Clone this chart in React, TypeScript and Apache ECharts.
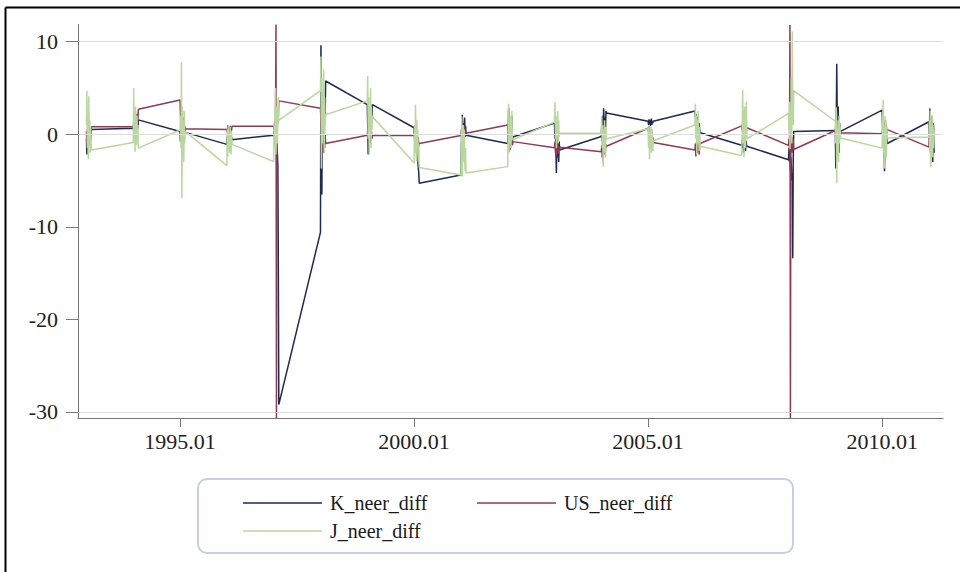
import React, { useEffect, useRef } from "react";
import * as echarts from "echarts";

// Years and months of the monthly series (x is coded as YYYY.MM)
const years = [1993, 1994, 1995, 1996, 1997, 1998, 1999, 2000, 2001, 2002, 2003, 2004, 2005, 2006, 2007, 2008, 2009, 2010, 2011];
const months = ["01", "02", "03", "04", "05", "06", "07", "08", "09", "10", "11", "12"];

const xTickValues = [1995.01, 2000.01, 2005.01, 2010.01];
const yTickValues = [-30, -20, -10, 0, 10];
const yGridValues = [-30, 0, 10];

// K_neer_diff, one row per year (Jan..Dec)
const kNeerDiff = [
  [-0.5, -2.2, 0.3, -0.8, 0.6, -1.2, 0.2, -0.4, 0.8, -0.6, 0.4, 0.5],
  [0.65, 1.2, -0.6, 1.7, 0.3, -0.9, 1.1, 0.2, -0.4, 1.4, 0.6, 1.55],
  [0.3, -0.8, 0.9, -0.3, 0.6, -1.0, 0.4, -0.5, 0.8, -0.2, 0.5, 0.2],
  [-1.1, -0.2, -1.6, 0.3, -0.9, -0.4, -1.3, 0.1, -0.7, -1.0, -0.3, -0.6],
  [-0.1, 0.4, -0.6, 0.2, -0.3, -1.0, -0.8, -1.6, -2.2, -3.5, -14.5, -29.2],
  [-10.6, 9.6, 1.5, -6.5, 3.0, -2.0, 4.5, 0.5, -1.5, 3.5, 2.0, 5.75],
  [3.2, 1.0, -2.2, 2.5, 0.4, 1.8, -1.0, 2.0, 0.8, 3.0, 1.5, 3.2],
  [0.7, -0.5, 0.9, -1.5, -0.2, -2.0, -1.0, -2.8, -3.0, -3.6, -4.2, -5.3],
  [-4.4, -1.5, 0.8, 2.1, -0.5, 1.2, -1.0, 0.6, 1.8, -0.3, 0.9, -0.1],
  [-1.0, 0.5, 2.8, -1.9, 1.0, -0.6, 1.5, -1.2, 0.3, 2.0, -0.8, -0.3],
  [1.2, -0.5, 0.6, -1.8, -4.2, -1.0, -2.5, 0.3, -1.5, -3.0, -0.8, -1.7],
  [-0.25, 1.0, -0.8, 2.0, 0.5, 2.8, 1.2, -0.3, 1.8, 0.6, 2.5, 2.3],
  [1.4, 1.0, 1.6, 1.1, 1.5, 0.9, 1.3, 1.7, 1.0, 1.4, 1.2, 1.4],
  [2.5, 1.8, 2.2, 0.8, 1.5, 0.5, 1.9, 1.0, 0.3, 1.2, 0.6, 0.15],
  [-1.2, -0.6, -1.5, -0.9, -2.0, -0.5, -1.4, -1.0, -1.8, -0.7, -1.1, -1.3],
  [-2.75, -1.5, -3.0, -2.2, -4.0, -2.5, -3.5, -5.0, -4.2, -13.4, -3.0, 0.3],
  [0.4, -3.7, 1.5, 7.6, 2.0, -1.0, 3.0, 0.5, -2.0, 1.2, -0.5, 0.3],
  [2.6, 0.5, 1.8, -0.8, 1.2, -4.0, 0.3, 1.5, -1.5, 0.8, -0.5, -1.0],
  [1.35, -0.5, 0.8, -1.5, 1.0, 0.2, -1.0, 0.5, -3.0, -0.8, 0.6, -2.0],
];

// US_neer_diff
const usNeerDiff = [
  [0.3, -1.1, 0.6, -0.4, 0.9, -0.8, 0.5, 0.2, -0.6, 0.7, 0.4, 0.8],
  [0.8, 0.5, 1.2, 0.2, 1.0, 1.8, 0.6, 1.4, 2.2, 1.0, 1.6, 2.7],
  [3.7, 2.0, 0.5, 1.5, -0.3, 1.0, 0.2, 1.8, 0.4, -0.2, 0.9, 0.6],
  [0.5, 0.2, 1.0, 0.4, -0.2, 0.7, 0.3, 0.9, 0.1, 0.6, 0.4, 0.85],
  [0.85, 0.5, 1.2, 0.7, 1.7, 11.85, -30.65, 0.8, 1.1, 1.5, 2.0, 3.6],
  [2.8, 1.5, 0.2, -2.5, 0.5, -1.2, 0.8, -2.0, 0.3, -1.5, 0.0, -1.0],
  [-0.1, 0.4, -0.6, 0.2, -0.3, 0.5, -0.4, 0.1, -0.2, 0.3, -0.5, -0.15],
  [-0.15, 0.3, -0.5, 0.1, -0.8, -0.2, -1.2, -0.4, -0.9, -0.3, -1.3, -1.0],
  [-0.15, 0.5, -0.4, 0.8, 0.2, -0.6, 0.6, 0.0, 0.9, -0.3, 0.4, 0.1],
  [1.0, 0.4, 1.3, -0.2, 0.6, -1.7, 0.2, -0.5, -1.0, 0.3, -1.2, -0.8],
  [-1.45, -0.8, -2.0, -1.2, -2.4, -0.9, -1.6, -1.0, -2.1, -1.3, -1.8, -1.4],
  [-1.9, -1.2, -2.5, -0.8, -2.9, -1.5, -1.0, -2.2, -0.6, -1.8, -1.1, -1.3],
  [0.65, 0.2, 0.9, -0.5, 0.4, -1.2, 0.1, -0.6, 0.5, -0.9, -0.3, -0.9],
  [-1.7, -1.0, -2.4, -1.3, -0.6, -2.0, -1.1, -1.6, -0.8, -2.2, -1.4, -1.0],
  [0.9, 0.4, 1.3, 0.6, 1.0, 0.2, 0.8, 1.4, 0.5, 1.1, 0.3, 0.7],
  [-1.2, -0.5, -1.8, 11.8, -30.65, -0.8, -1.5, -0.3, -2.0, -1.0, -0.6, -1.65],
  [0.4, 1.0, -0.5, 2.4, 0.8, -1.7, 0.3, 1.2, -0.8, 0.6, -0.2, 0.15],
  [0.05, 0.6, -0.4, 0.9, 0.2, -0.6, 0.7, 0.1, 1.0, -0.3, 0.4, 0.5],
  [-1.4, 0.5, 2.8, -0.6, 1.5, -1.0, 0.8, 2.0, -0.4, 1.2, 0.3, 0.9],
];

// J_neer_diff
const jNeerDiff = [
  [1.0, 4.7, -1.5, 2.0, -2.7, 4.1, -0.5, 1.5, -2.0, 0.8, -1.0, -1.7],
  [-0.9, 5.0, -1.0, 2.5, -1.9, 3.0, 0.5, -1.2, 2.0, -0.5, 1.0, -1.5],
  [0.45, 2.0, -1.5, 7.8, -6.9, 3.0, -2.0, 1.5, -3.0, 2.5, -1.0, 0.3],
  [-3.4, 0.5, -2.4, 1.0, -1.5, 0.2, -2.0, 0.8, -1.0, -2.2, 0.3, -1.1],
  [-2.95, 1.0, -1.5, 2.5, 5.0, -2.2, 3.0, 0.5, -1.0, 2.0, 4.0, 1.5],
  [4.7, 8.4, -3.7, 6.0, -1.0, 3.5, 0.5, 7.0, -2.0, 4.0, 1.0, 2.1],
  [3.6, 6.3, -0.5, 4.0, -2.2, 2.5, 0.8, 5.0, -1.5, 3.0, 0.5, 1.9],
  [-3.1, 1.0, -2.0, 3.2, -0.5, -2.8, 1.5, -1.5, 0.5, -3.0, -1.0, -3.6],
  [-4.4, -1.0, 1.9, -4.6, -0.5, 1.0, -3.0, 0.5, -2.0, -4.0, -1.5, -4.2],
  [-3.5, 0.5, 3.3, -2.0, 1.5, -1.0, 2.0, -1.5, 0.8, 2.5, -0.5, -0.6],
  [1.3, 3.5, -0.5, 2.0, -1.5, 1.0, 0.3, 2.5, -1.0, 1.5, -0.3, 0.1],
  [0.1, 2.0, -1.5, 1.0, -3.5, 0.5, -2.0, 1.5, -1.0, -2.5, 0.8, -0.5],
  [0.6, -1.5, 1.0, -2.7, 0.2, -1.0, 0.8, -2.0, -0.3, 0.5, -1.8, -0.7],
  [1.0, 3.3, -0.5, 2.0, -2.2, 1.5, -1.0, 2.5, 0.0, -1.8, 0.8, -1.3],
  [-2.3, 1.0, 4.8, -1.0, 2.5, -2.45, 3.0, 0.5, -1.5, 1.8, 3.5, -0.5],
  [2.25, 0.5, 3.5, -1.6, 2.0, 0.8, 6.0, -1.0, 11.1, 3.0, 1.0, 4.7],
  [1.4, -1.0, 2.9, -5.3, 0.5, -2.0, 1.5, -3.0, 2.0, -1.0, 0.8, -0.4],
  [-1.5, 1.0, 3.7, -2.0, 0.5, -3.7, 2.0, -1.0, 1.5, -2.5, 0.8, -0.4],
  [-0.3, 1.5, -2.0, 2.5, -3.5, 0.8, -1.0, 2.0, -2.5, 0.5, -1.5, 1.0],
];

const seriesNames = ["K_neer_diff", "US_neer_diff", "J_neer_diff"];
const seriesColors = ["#1e2a4e", "#8d3a58", "#b9d79e"];

function toPoints(rows: number[][]) {
  const pts: [number, number][] = [];
  rows.forEach((row, yi) => {
    row.forEach((v, mi) => {
      pts.push([Number(`${years[yi]}.${months[mi]}`), v]);
    });
  });
  return pts;
}

const FONT = "'Liberation Serif', 'Times New Roman', serif";

export default function App() {
  const ref = useRef<HTMLDivElement>(null);

  useEffect(() => {
    if (!ref.current) return;
    const chart = echarts.init(ref.current, undefined, { renderer: "svg" });
    const allData = [kNeerDiff, usNeerDiff, jNeerDiff];

    const legendText = {
      fontFamily: FONT,
      fontSize: 20,
      color: "#1a1a1a",
      lineHeight: 22,
      padding: [0, 0, 0, 3],
    };
    const legendBase = {
      orient: "horizontal",
      icon: "rect",
      itemWidth: 79,
      itemHeight: 1.6,
      selectedMode: false,
      textStyle: legendText,
      padding: 0,
    };

    chart.setOption({
      animation: false,
      backgroundColor: "#ffffff",
      grid: {
        left: 78,
        right: 17,
        top: 24.5,
        bottom: 154,
        containLabel: false,
        outerBoundsMode: "none",
      },
      xAxis: {
        type: "value",
        min: 1992.83,
        max: 2011.31,
        axisLine: { show: true, onZero: false, lineStyle: { color: "#777777", width: 1 } },
        axisTick: {
          show: true,
          length: 9,
          customValues: xTickValues,
          lineStyle: { color: "#777777", width: 1 },
        },
        axisLabel: {
          customValues: xTickValues,
          formatter: (v: number) => v.toFixed(2),
          margin: 12,
          fontFamily: FONT,
          fontSize: 22,
          color: "#222222",
        },
        splitLine: { show: false },
      },
      yAxis: {
        type: "value",
        min: -30.65,
        max: 11.85,
        axisLine: { show: true, onZero: false, lineStyle: { color: "#777777", width: 1 } },
        axisTick: {
          show: true,
          length: 12,
          customValues: yTickValues,
          lineStyle: { color: "#777777", width: 1 },
        },
        axisLabel: {
          customValues: yTickValues,
          formatter: (v: number) => String(v),
          margin: 20,
          fontFamily: FONT,
          fontSize: 22,
          color: "#222222",
        },
        splitLine: { show: false },
      },
      legend: [
        { ...legendBase, data: [seriesNames[0]], left: 243, top: 492 },
        { ...legendBase, data: [seriesNames[1]], left: 477, top: 492 },
        { ...legendBase, data: [seriesNames[2]], left: 243, top: 520 },
      ],
      graphic: [
        {
          type: "rect",
          shape: { x: 198, y: 479, width: 595, height: 74, r: 9 },
          style: { fill: "#ffffff", stroke: "#c9cde3", lineWidth: 2 },
          z: -10,
          silent: true,
        },
        {
          type: "line",
          shape: { x1: 5.5, y1: 7.5, x2: 960, y2: 7.5 },
          style: { stroke: "#000000", lineWidth: 2 },
          silent: true,
        },
        {
          type: "line",
          shape: { x1: 5.5, y1: 7.5, x2: 5.5, y2: 572 },
          style: { stroke: "#000000", lineWidth: 2 },
          silent: true,
        },
      ],
      series: [
        {
          type: "line",
          name: "grid",
          data: [],
          z: 1,
          silent: true,
          markLine: {
            silent: true,
            symbol: "none",
            label: { show: false },
            lineStyle: { color: "#dcdcdc", width: 1, type: "solid" },
            data: yGridValues.map((v) => ({ yAxis: v })),
          },
        },
        ...allData.map((rows, i) => ({
          type: "line",
          name: seriesNames[i],
          data: toPoints(rows),
          symbol: "none",
          showSymbol: false,
          clip: true,
          lineStyle: { color: seriesColors[i], width: 1.5 },
          itemStyle: { color: seriesColors[i] },
          z: 2 + i,
        })),
      ],
    });

    return () => chart.dispose();
  }, []);

  return (
    <div
      ref={ref}
      style={{ position: "fixed", left: 0, top: 0, width: 960, height: 572, background: "#fff" }}
    />
  );
}
